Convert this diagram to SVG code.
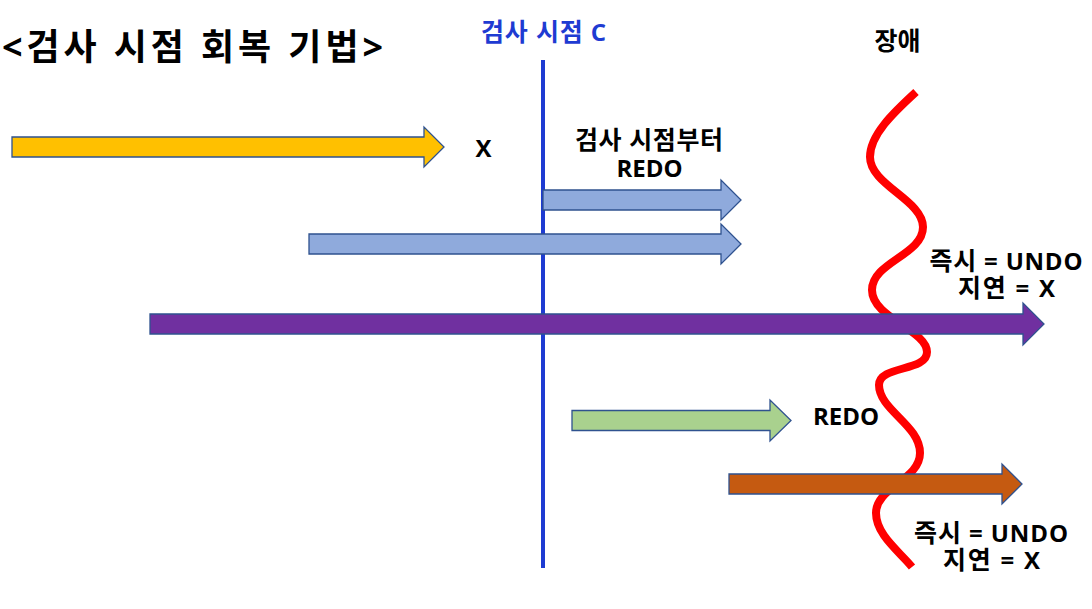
<svg xmlns="http://www.w3.org/2000/svg" width="1092" height="609" viewBox="0 0 1092 609">
<style>
.t{font-family:"Open Sans","Noto Sans CJK KR",sans-serif;font-weight:bold;fill:#000;font-size:24px;}
.m{text-anchor:middle;}
.k{font-size:25px;}
.arr{stroke:#2F528F;stroke-width:1.3;stroke-linejoin:miter;}
</style>
<rect width="1092" height="609" fill="#fff"/>
<text id="title" class="t" x="2" y="60" style="font-size:36px" textLength="381" lengthAdjust="spacing">&lt;검사 시점 회복 기법&gt;</text>
<g id="checkpoint">
<line x1="543" y1="60" x2="543" y2="568" stroke="#1E3BD2" stroke-width="4"/>
<text class="t m" x="543.5" y="41" style="fill:#1E3BD2" textLength="125" lengthAdjust="spacing"><tspan class="k">검사 시점</tspan> C</text>
</g>
<g id="failure">
<path d="M916,92 C893,113 870,135 870,157 C870,185 923,200 923,227 C923,255 872,262 872,290 C872,318 927,330 927,352 C927,372 879,365 879,385 C879,410 920,425 920,453 C920,480 876,487 876,513 C876,535 900,552 912,567" fill="none" stroke="#FF0000" stroke-width="8"/>
<text class="t m k" x="897.5" y="50">장애</text>
</g>
<g id="connectors">
<g id="t1">
<polygon class="arr" fill="#FFC000" points="12,137 424,137 424,127 444,147 424,167 424,157 12,157"/>
<text class="t m" x="483.5" y="157">X</text>
</g>
<g id="t2">
<polygon class="arr" fill="#8FAADC" points="543,190 721,190 721,180 741,200 721,220 721,210 543,210"/>
<text class="t m k" x="649" y="149" textLength="148" lengthAdjust="spacing">검사 시점부터</text>
<text class="t m" x="649.5" y="177">REDO</text>
</g>
<g id="t3">
<polygon class="arr" fill="#8FAADC" points="309,234 721,234 721,224 741,244 721,264 721,254 309,254"/>
</g>
<g id="t4">
<polygon class="arr" fill="#7030A0" points="150,314 1023,314 1023,303 1044,324 1023,345 1023,334 150,334"/>
</g>
<g id="t5">
<polygon class="arr" fill="#A9D18E" points="572,410.5 770,410.5 770,400 791,420.5 770,441 770,430.5 572,430.5"/>
<text class="t m" x="846" y="425">REDO</text>
</g>
<g id="t6">
<polygon class="arr" fill="#C55A11" points="729,474 1002,474 1002,464 1022,484 1002,504 1002,494 729,494"/>
</g>
</g>
<g id="labels">
<text class="t m" x="1006" y="270" textLength="153" lengthAdjust="spacing"><tspan class="k">즉시</tspan> = UNDO</text>
<text class="t m" x="1006.5" y="297" textLength="97" lengthAdjust="spacing"><tspan class="k">지연</tspan> = X</text>
<text class="t m" x="991" y="542" textLength="154" lengthAdjust="spacing"><tspan class="k">즉시</tspan> = UNDO</text>
<text class="t m" x="991.5" y="569" textLength="97" lengthAdjust="spacing"><tspan class="k">지연</tspan> = X</text>
</g>
</svg>
